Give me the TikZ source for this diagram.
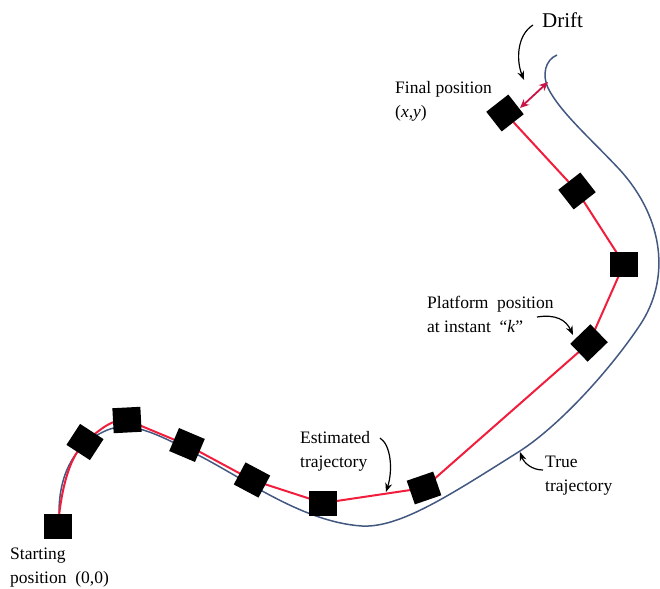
\documentclass[tikz,border=0pt]{standalone}
\usepackage{fontspec}
\setmainfont{Liberation Serif}
\usetikzlibrary{arrows.meta, backgrounds}
\definecolor{estred}{RGB}{240,30,60}
\definecolor{trueblue}{RGB}{66,88,128}
\definecolor{driftred}{RGB}{200,20,70}

\begin{document}
\begin{tikzpicture}[x=1pt, y=-1pt,
    robot/.style={fill=black, minimum width=28pt, minimum height=25pt, inner sep=0pt, rotate=#1},
    robot/.default=0,
    est/.style={draw=estred, line width=2pt},
    truepath/.style={draw=trueblue, line width=1.5pt},
    drift/.style={{Stealth[length=9pt, width=8pt]}-{Stealth[length=9pt, width=8pt]}, draw=driftred, line width=1.8pt},
    lbl/.style={font=\fontsize{17.5}{24}\selectfont, align=left, inner sep=0pt, anchor=north west},
    pointer/.style={-{Stealth[length=9pt, width=7pt]}, line width=1.2pt},
]
\useasboundingbox (0,0) rectangle (660,588);

% platform positions
\node[robot] (p0) at (58,526) {};
\node[robot=-33] (p1) at (85,442) {};
\node[robot=3] (p2) at (127,420) {};
\node[robot=-23] (p3) at (187,445) {};
\node[robot=-28] (p4) at (252,480) {};
\node[robot] (p5) at (323,503) {};
\node[robot=19] (p6) at (424,488) {};
\node[robot=44] (p7) at (589,343) {};
\node[robot] (p8) at (624,264) {};
\node[robot=38] (p9) at (577,191) {};
\node[robot=38] (p10) at (505,113) {};

% trajectories
\begin{scope}[on background layer]
\draw[truepath] (59,513) .. controls (59,480) and (70,447) .. (105,431)
    .. controls (125,422) and (145,427) .. (190,451)
    .. controls (240,475) and (300,522) .. (362,526)
    .. controls (400,528) and (450,495) .. (520,451)
    .. controls (560,425) and (610,370) .. (640,325)
    .. controls (670,280) and (665,220) .. (620,170)
    .. controls (590,138) and (560,112) .. (548,88)
    .. controls (542,75) and (545,60) .. (557,55);
\draw[est] (p0.center) .. controls (62,480) and (72,455) .. (p1.center)
    .. controls (102,428) and (112,419) .. (p2.center) -- (p3.center) -- (p4.center)
    -- (p5.center) -- (p6.center) -- (p7.center) -- (p8.center) -- (p9.center) -- (p10.center);
\end{scope}

% drift
\coordinate (d1) at (520,108);
\coordinate (d2) at (548,82);
\draw[drift] (d1) -- (d2);

% labels
\node[lbl, font=\fontsize{21}{24}\selectfont] (driftlbl) at (542,13) {Drift};
\node[lbl] (final) at (395,81) {Final position\\(\textit{x},\textit{y})};
\node[lbl] (platform) at (427,296) {Platform\ \ position\\at instant \ “\textit{k}”};
\node[lbl] (estlbl) at (300,431) {Estimated\\trajectory};
\node[lbl] (truelbl) at (545,456) {True\\trajectory};
\node[lbl] (start) at (10,548) {Starting\\position\ \ (0,0)};

% pointers
\coordinate (a1) at (533,25);
\coordinate (b1) at (524,80);
\draw[pointer] (a1) .. controls (517,35) and (516,60) .. (b1);
\coordinate (a2) at (537,317);
\coordinate (b2) at (573,335);
\draw[pointer] (a2) .. controls (556,314) and (566,320) .. (b2);
\coordinate (a3) at (380,438);
\coordinate (b3) at (386,492);
\draw[pointer] (a3) .. controls (391,445) and (393,470) .. (b3);
\coordinate (a4) at (543,470);
\coordinate (b4) at (520,452);
\draw[pointer] (a4) .. controls (532,470) and (524,463) .. (b4);

\end{tikzpicture}
\end{document}
